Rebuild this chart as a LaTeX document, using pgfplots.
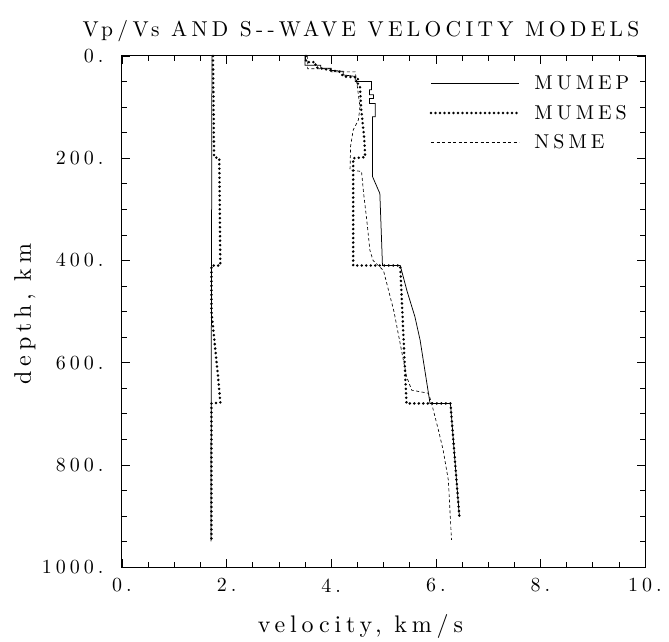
\documentclass[border=0pt]{standalone}
\usepackage{fontspec}
\usepackage{pgfplots}
\pgfplotsset{compat=1.18}
\newfontfamily\lmspaced{lmroman10-regular.otf}[LetterSpace=20]
\newcommand\plotfont{\lmspaced\fontsize{20}{24}\selectfont}
\newcommand\titlefont{\lmspaced\fontsize{21.5}{26}\selectfont}
\newcommand\labelfont{\lmspaced\fontsize{24}{28}\selectfont}

% S-wave velocity (km/s) against depth (km)
\pgfplotstableread{
v d
3.50 0
3.50 18
3.80 18
3.80 24
4.00 24
4.00 28
4.23 30
4.23 37
4.46 40
4.46 50
4.77 50
4.77 66
4.73 66
4.73 76
4.81 76
4.81 83
4.73 83
4.73 93
4.84 93
4.84 119
4.79 119
4.79 236
4.93 269
4.97 380
4.98 410
5.32 410
5.45 460
5.60 510
5.70 556
5.89 680
6.28 680
6.32 732
6.45 900
}\mumep
\pgfplotstableread{
v d
3.52 0
3.52 12
3.70 12
3.70 22
3.98 28
4.17 31
4.23 40
4.51 42
4.51 55
4.55 60
4.57 100
4.60 130
4.63 160
4.65 198
4.42 200
4.42 410
5.32 410
5.44 680
6.28 680
6.32 732
6.45 900
}\mumes
\pgfplotstableread{
v d
3.55 0
3.55 25
4.00 25
4.00 31
4.46 31
4.50 60
4.55 100
4.52 125
4.42 145
4.37 177
4.36 223
4.58 226
4.62 269
4.68 321
4.74 380
4.80 400
5.00 420
5.20 500
5.44 627
5.54 654
5.86 660
5.92 680
6.05 732
6.14 771
6.24 830
6.30 947
}\nsme
% Vp/Vs ratios
\pgfplotstableread{
v d
1.72 0
1.70 950
}\ratioP
\pgfplotstableread{
v d
1.74 0
1.76 198
1.86 200
1.88 410
1.71 410
1.71 500
1.75 540
1.83 620
1.88 678
1.71 680
1.71 950
}\ratioS

\begin{document}
\begin{tikzpicture}
\useasboundingbox (-122pt,-75pt) rectangle (547pt,567pt);
\begin{axis}[
  at={(0pt,0pt)}, anchor=south west,
  scale only axis, width=523pt, height=511pt,
  clip=false,
  xmin=0, xmax=10, ymin=0, ymax=1000, y dir=reverse,
  xtick={0,2,...,10}, xticklabels={0.,2.,4.,6.,8.,10.},
  ytick={0,200,...,1000}, yticklabels={0.,200.,400.,600.,800.,1000.},
  minor x tick num=3, minor y tick num=3,
  tick align=inside, major tick length=8pt, minor tick length=5pt,
  tick style={line width=0.6pt, black},
  axis line style={line width=1pt},
  ticklabel style={font=\plotfont},
  xticklabel style={yshift=-8pt},
  yticklabel style={xshift=-15pt},
  legend style={draw=none, fill=none, font=\plotfont,
    at={(0.98,0.969)}, anchor=north east, row sep=10pt,
    /tikz/every odd column/.append style={column sep=12pt}},
  legend cell align=left,
  legend image code/.code={\draw[#1] (0pt,0pt) -- (88pt,0pt);},
]
\addplot[black, line width=0.75pt] table[x=v, y=d] {\mumep};
\addlegendentry{MUMEP}
\addplot[black, line width=2.8pt, line cap=round, dash pattern=on 0pt off 4.5pt] table[x=v, y=d] {\mumes};
\addlegendentry{MUMES}
\addplot[black, line width=0.65pt, dash pattern=on 3pt off 2.5pt] table[x=v, y=d] {\nsme};
\addlegendentry{NSME}
\addplot[black, line width=0.75pt, forget plot] table[x=v, y=d] {\ratioP};
\addplot[black, line width=2.8pt, line cap=round, dash pattern=on 0pt off 4.5pt, forget plot] table[x=v, y=d] {\ratioS};

\path (axis description cs:0.457,1) ++(0pt,19pt) node[anchor=base, font=\titlefont] {Vp/Vs AND S--WAVE VELOCITY MODELS};
\path (axis description cs:0.456,0) ++(0pt,-65pt) node[anchor=base, font=\labelfont] {velocity, km/s};
\path (axis description cs:0,0.495) ++(-91pt,0pt) node[rotate=90, anchor=base, font=\labelfont] {depth, km};
\end{axis}
\end{tikzpicture}
\end{document}
